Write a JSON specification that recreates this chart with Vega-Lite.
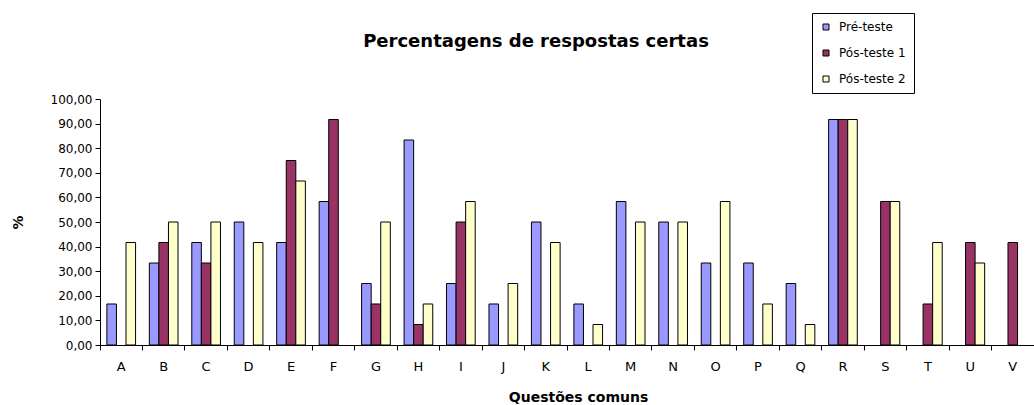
{
  "$schema": "https://vega.github.io/schema/vega-lite/v6.json",
  "width": 934,
  "height": 246,
  "autosize": {"type": "none"},
  "padding": {"left": 100, "top": 99, "right": 0, "bottom": 60},
  "background": "white",
  "config": {
    "font": "DejaVu Sans",
    "view": {"stroke": null},
    "axis": {"grid": false, "domainColor": "black", "tickColor": "black", "labelColor": "black", "titleColor": "black"}
  },
  "title": {
    "text": "Percentagens de respostas certas",
    "fontSize": 18,
    "fontWeight": "bold",
    "font": "DejaVu Sans",
    "color": "black",
    "anchor": "middle",
    "dx": -31,
    "dy": 42
  },
  "data": {
    "values": [
      {"q": "A", "serie": "Pré-teste", "v": 16.67},
      {"q": "A", "serie": "Pós-teste 2", "v": 41.67},
      {"q": "B", "serie": "Pré-teste", "v": 33.33},
      {"q": "B", "serie": "Pós-teste 1", "v": 41.67},
      {"q": "B", "serie": "Pós-teste 2", "v": 50},
      {"q": "C", "serie": "Pré-teste", "v": 41.67},
      {"q": "C", "serie": "Pós-teste 1", "v": 33.33},
      {"q": "C", "serie": "Pós-teste 2", "v": 50},
      {"q": "D", "serie": "Pré-teste", "v": 50},
      {"q": "D", "serie": "Pós-teste 2", "v": 41.67},
      {"q": "E", "serie": "Pré-teste", "v": 41.67},
      {"q": "E", "serie": "Pós-teste 1", "v": 75},
      {"q": "E", "serie": "Pós-teste 2", "v": 66.67},
      {"q": "F", "serie": "Pré-teste", "v": 58.33},
      {"q": "F", "serie": "Pós-teste 1", "v": 91.67},
      {"q": "G", "serie": "Pré-teste", "v": 25},
      {"q": "G", "serie": "Pós-teste 1", "v": 16.67},
      {"q": "G", "serie": "Pós-teste 2", "v": 50},
      {"q": "H", "serie": "Pré-teste", "v": 83.33},
      {"q": "H", "serie": "Pós-teste 1", "v": 8.33},
      {"q": "H", "serie": "Pós-teste 2", "v": 16.67},
      {"q": "I", "serie": "Pré-teste", "v": 25},
      {"q": "I", "serie": "Pós-teste 1", "v": 50},
      {"q": "I", "serie": "Pós-teste 2", "v": 58.33},
      {"q": "J", "serie": "Pré-teste", "v": 16.67},
      {"q": "J", "serie": "Pós-teste 2", "v": 25},
      {"q": "K", "serie": "Pré-teste", "v": 50},
      {"q": "K", "serie": "Pós-teste 2", "v": 41.67},
      {"q": "L", "serie": "Pré-teste", "v": 16.67},
      {"q": "L", "serie": "Pós-teste 2", "v": 8.33},
      {"q": "M", "serie": "Pré-teste", "v": 58.33},
      {"q": "M", "serie": "Pós-teste 2", "v": 50},
      {"q": "N", "serie": "Pré-teste", "v": 50},
      {"q": "N", "serie": "Pós-teste 2", "v": 50},
      {"q": "O", "serie": "Pré-teste", "v": 33.33},
      {"q": "O", "serie": "Pós-teste 2", "v": 58.33},
      {"q": "P", "serie": "Pré-teste", "v": 33.33},
      {"q": "P", "serie": "Pós-teste 2", "v": 16.67},
      {"q": "Q", "serie": "Pré-teste", "v": 25},
      {"q": "Q", "serie": "Pós-teste 2", "v": 8.33},
      {"q": "R", "serie": "Pré-teste", "v": 91.67},
      {"q": "R", "serie": "Pós-teste 1", "v": 91.67},
      {"q": "R", "serie": "Pós-teste 2", "v": 91.67},
      {"q": "S", "serie": "Pós-teste 1", "v": 58.33},
      {"q": "S", "serie": "Pós-teste 2", "v": 58.33},
      {"q": "T", "serie": "Pós-teste 1", "v": 16.67},
      {"q": "T", "serie": "Pós-teste 2", "v": 41.67},
      {"q": "U", "serie": "Pós-teste 1", "v": 41.67},
      {"q": "U", "serie": "Pós-teste 2", "v": 33.33},
      {"q": "V", "serie": "Pós-teste 1", "v": 41.67}
    ]
  },
  "mark": {"type": "bar", "stroke": "black", "strokeWidth": 1},
  "encoding": {
    "x": {
      "field": "q",
      "type": "nominal",
      "sort": ["A","B","C","D","E","F","G","H","I","J","K","L","M","N","O","P","Q","R","S","T","U","V"],
      "scale": {"domain": ["A","B","C","D","E","F","G","H","I","J","K","L","M","N","O","P","Q","R","S","T","U","V"], "paddingInner": 0, "paddingOuter": 0},
      "axis": {
        "title": "Questões comuns",
        "titleFontSize": 14,
        "titleFontWeight": "bold",
        "titleX": 478,
        "titleY": 52,
        "titleAlign": "center",
        "titleBaseline": "middle",
        "labelAngle": 0,
        "labelFontSize": 13,
        "labelPadding": 10,
        "bandPosition": 0,
        "ticks": true,
        "tickSize": 5,
        "domainWidth": 1
      }
    },
    "xOffset": {
      "field": "serie",
      "type": "nominal",
      "scale": {"domain": ["Pré-teste", "Pós-teste 1", "Pós-teste 2"], "paddingInner": 0, "paddingOuter": 0.72}
    },
    "y": {
      "field": "v",
      "type": "quantitative",
      "scale": {"domain": [0, 100], "nice": false},
      "axis": {
        "title": "%",
        "titleFontSize": 14,
        "titleFontWeight": "bold",
        "titleX": -82,
        "titleY": 123,
        "titleAngle": -90,
        "titleAlign": "center",
        "titleBaseline": "middle",
        "values": [0,10,20,30,40,50,60,70,80,90,100],
        "labelExpr": "replace(format(datum.value, '.2f'), '.', ',')",
        "labelFontSize": 12,
        "labelPadding": 3,
        "tickSize": 5
      }
    },
    "fill": {
      "field": "serie",
      "type": "nominal",
      "scale": {"domain": ["Pré-teste", "Pós-teste 1", "Pós-teste 2"], "range": ["#9999FF", "#993366", "#FFFFCC"]},
      "legend": {
        "title": null,
        "orient": "none",
        "legendX": 712,
        "legendY": -86,
        "strokeColor": "black",
        "fillColor": "white",
        "padding": 8,
        "rowPadding": 14,
        "symbolType": "square",
        "symbolSize": 36,
        "symbolStrokeColor": "black",
        "symbolStrokeWidth": 1,
        "labelFontSize": 12,
        "labelOffset": 7,
        "labelColor": "black"
      }
    }
  }
}
